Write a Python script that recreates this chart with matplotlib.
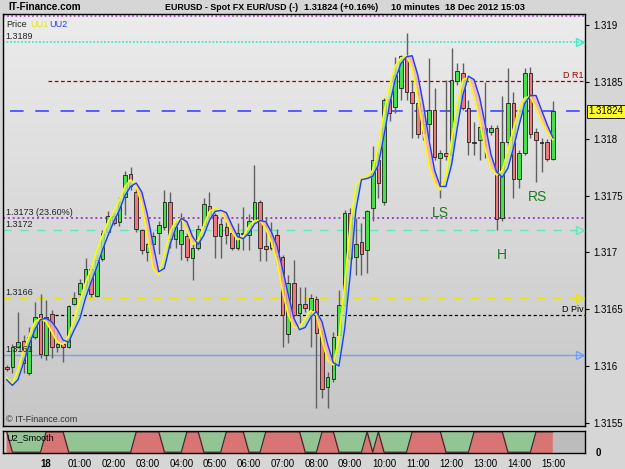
import numpy as np
import matplotlib
matplotlib.use("Agg")
import matplotlib.pyplot as plt
import matplotlib.transforms as mtransforms

# === 10-minute candles, 17 Dec 22:50 -> 18 Dec 15:00 ===
opens = [1.31599, 1.31599, 1.31617, 1.31622, 1.31594, 1.31626, 1.31646, 1.31610, 1.31646, 1.31617,
         1.31619, 1.31617, 1.31655, 1.31663, 1.31671, 1.31685, 1.31662, 1.31694, 1.31718, 1.31732,
         1.31727, 1.31749, 1.31769, 1.31753, 1.31720, 1.31700, 1.31707, 1.31717, 1.31722, 1.31744,
         1.31712, 1.31707, 1.31714, 1.31695, 1.31704, 1.31723, 1.31741, 1.31733, 1.31714, 1.31722,
         1.31717, 1.31704, 1.31716, 1.31715, 1.31728, 1.31744, 1.31706, 1.31704, 1.31715, 1.31696,
         1.31628, 1.31673, 1.31647, 1.31655, 1.31649, 1.31659, 1.31628, 1.31582, 1.31589, 1.31627,
         1.31654, 1.31735, 1.31696, 1.31709, 1.31702, 1.31739, 1.31781, 1.31744, 1.31835, 1.31828,
         1.31845, 1.31873, 1.31841, 1.31831, 1.31805, 1.31813, 1.31825, 1.31783, 1.31787, 1.31786,
         1.31851, 1.31858, 1.31827, 1.31797, 1.31799, 1.31805, 1.31806, 1.31809, 1.31730, 1.31797,
         1.31831, 1.31765, 1.31787, 1.31858, 1.31806, 1.31797, 1.31797, 1.31782]
highs = [1.31601, 1.31619, 1.31648, 1.31627, 1.31634, 1.31656, 1.31663, 1.31658, 1.31649, 1.31632,
         1.31623, 1.31654, 1.31665, 1.31677, 1.31695, 1.31689, 1.31698, 1.31720, 1.31736, 1.31735,
         1.31749, 1.31772, 1.31775, 1.31757, 1.31721, 1.31708, 1.31718, 1.31728, 1.31755, 1.31753,
         1.31727, 1.31735, 1.31717, 1.31707, 1.31724, 1.31748, 1.31753, 1.31735, 1.31730, 1.31728,
         1.31721, 1.31726, 1.31740, 1.31734, 1.31777, 1.31746, 1.31731, 1.31727, 1.31721, 1.31698,
         1.31680, 1.31693, 1.31670, 1.31670, 1.31663, 1.31662, 1.31632, 1.31595, 1.31630, 1.31667,
         1.31737, 1.31739, 1.31730, 1.31726, 1.31737, 1.31794, 1.31788, 1.31836, 1.31838, 1.31872,
         1.31874, 1.31893, 1.31852, 1.31843, 1.31823, 1.31871, 1.31845, 1.31790, 1.31852, 1.31880,
         1.31867, 1.31867, 1.31834, 1.31815, 1.31815, 1.31850, 1.31812, 1.31812, 1.31838, 1.31862,
         1.31841, 1.31790, 1.31862, 1.31863, 1.31809, 1.31801, 1.31800, 1.31833]
lows = [1.31596, 1.31594, 1.31616, 1.31594, 1.31592, 1.31624, 1.31607, 1.31605, 1.31607, 1.31612,
        1.31604, 1.31616, 1.31654, 1.31661, 1.31667, 1.31661, 1.31661, 1.31692, 1.31715, 1.31724,
        1.31723, 1.31733, 1.31755, 1.31718, 1.31699, 1.31692, 1.31699, 1.31699, 1.31720, 1.31704,
        1.31704, 1.31693, 1.31692, 1.31676, 1.31702, 1.31721, 1.31729, 1.31695, 1.31695, 1.31707,
        1.31702, 1.31702, 1.31702, 1.31702, 1.31727, 1.31692, 1.31692, 1.31702, 1.31689, 1.31617,
        1.31620, 1.31643, 1.31638, 1.31648, 1.31617, 1.31563, 1.31572, 1.31563, 1.31586, 1.31626,
        1.31652, 1.31692, 1.31680, 1.31680, 1.31682, 1.31728, 1.31748, 1.31742, 1.31816, 1.31823,
        1.31834, 1.31834, 1.31801, 1.31801, 1.31799, 1.31799, 1.31781, 1.31748, 1.31781, 1.31781,
        1.31847, 1.31825, 1.31786, 1.31786, 1.31781, 1.31783, 1.31803, 1.31720, 1.31728, 1.31794,
        1.31748, 1.31757, 1.31786, 1.31801, 1.31762, 1.31771, 1.31780, 1.31781]
closes = [1.31597, 1.31617, 1.31621, 1.31603, 1.31626, 1.31643, 1.31611, 1.31643, 1.31617, 1.31619,
          1.31617, 1.31653, 1.31660, 1.31673, 1.31685, 1.31663, 1.31693, 1.31717, 1.31732, 1.31726,
          1.31744, 1.31768, 1.31758, 1.31721, 1.31702, 1.31707, 1.31714, 1.31724, 1.31744, 1.31712,
          1.31722, 1.31720, 1.31696, 1.31704, 1.31721, 1.31743, 1.31731, 1.31714, 1.31725, 1.31715,
          1.31704, 1.31717, 1.31717, 1.31728, 1.31744, 1.31704, 1.31703, 1.31714, 1.31697, 1.31645,
          1.31673, 1.31645, 1.31655, 1.31651, 1.31660, 1.31629, 1.31580, 1.31590, 1.31626, 1.31654,
          1.31735, 1.31695, 1.31707, 1.31699, 1.31736, 1.31781, 1.31761, 1.31834, 1.31823, 1.31856,
          1.31873, 1.31841, 1.31831, 1.31804, 1.31813, 1.31825, 1.31784, 1.31787, 1.31785, 1.31852,
          1.31860, 1.31827, 1.31797, 1.31796, 1.31810, 1.31809, 1.31809, 1.31729, 1.31797, 1.31831,
          1.31765, 1.31787, 1.31858, 1.31804, 1.31799, 1.31796, 1.31782, 1.31824]

# === smoothed lines (UU1 yellow, UU2 blue) ===
uu1 = [1.31590, 1.31584, 1.31597, 1.31614, 1.31627, 1.31639, 1.31642, 1.31639, 1.31630, 1.31621,
       1.31619, 1.31627, 1.31642, 1.31658, 1.31673, 1.31686, 1.31702, 1.31715, 1.31727, 1.31736,
       1.31746, 1.31758, 1.31764, 1.31758, 1.31742, 1.31713, 1.31686, 1.31680, 1.31698, 1.31718,
       1.31728, 1.31730, 1.31720, 1.31707, 1.31711, 1.31724, 1.31736, 1.31739, 1.31737, 1.31728,
       1.31718, 1.31711, 1.31714, 1.31723, 1.31728, 1.31728, 1.31721, 1.31709, 1.31692, 1.31665,
       1.31645, 1.31634, 1.31634, 1.31642, 1.31649, 1.31645, 1.31623, 1.31605, 1.31601, 1.31625,
       1.31671, 1.31724, 1.31759, 1.31765, 1.31767, 1.31772, 1.31794, 1.31823, 1.31847, 1.31864,
       1.31871, 1.31873, 1.31862, 1.31836, 1.31805, 1.31777, 1.31761, 1.31755, 1.31768, 1.31799,
       1.31831, 1.31852, 1.31854, 1.31838, 1.31816, 1.31790, 1.31774, 1.31768, 1.31772, 1.31790,
       1.31809, 1.31827, 1.31836, 1.31837, 1.31827, 1.31815, 1.31806, 1.31799]
uu2 = [1.31588, 1.31583, 1.31588, 1.31603, 1.31619, 1.31632, 1.31641, 1.31642, 1.31639, 1.31632,
       1.31623, 1.31621, 1.31632, 1.31642, 1.31660, 1.31674, 1.31687, 1.31702, 1.31715, 1.31727,
       1.31737, 1.31750, 1.31758, 1.31761, 1.31753, 1.31733, 1.31707, 1.31683, 1.31686, 1.31707,
       1.31721, 1.31730, 1.31727, 1.31714, 1.31707, 1.31715, 1.31728, 1.31736, 1.31737, 1.31735,
       1.31724, 1.31714, 1.31712, 1.31717, 1.31725, 1.31728, 1.31727, 1.31718, 1.31706, 1.31685,
       1.31663, 1.31642, 1.31632, 1.31634, 1.31643, 1.31648, 1.31639, 1.31619, 1.31603, 1.31600,
       1.31632, 1.31680, 1.31737, 1.31764, 1.31765, 1.31767, 1.31777, 1.31803, 1.31830, 1.31852,
       1.31866, 1.31872, 1.31873, 1.31856, 1.31830, 1.31799, 1.31772, 1.31758, 1.31758, 1.31777,
       1.31809, 1.31838, 1.31855, 1.31852, 1.31836, 1.31812, 1.31786, 1.31771, 1.31766, 1.31774,
       1.31792, 1.31812, 1.31831, 1.31838, 1.31838, 1.31825, 1.31812, 1.31801]

# === U2_Smooth state (1 = red / up top, 0 = green) ===
u2_smooth = [1, 0, 0, 0, 0, 0, 0, 1, 1, 1, 1, 0, 0, 0, 0, 0, 0, 0, 0, 0,
             0, 0, 0, 1, 1, 1, 1, 1, 0, 0, 0, 0, 1, 1, 1, 0, 0, 0, 0, 1,
             1, 1, 1, 0, 0, 0, 1, 1, 1, 1, 1, 1, 1, 0, 0, 0, 1, 1, 1, 0,
             0, 0, 0, 0, 1, 0, 1, 0, 0, 0, 0, 0, 1, 1, 1, 1, 1, 1, 0, 0,
             0, 0, 0, 1, 1, 1, 1, 1, 1, 0, 0, 0, 0, 0, 1, 1, 1, 1]

# === horizontal levels ===
lvl_top = 1.31908
lvl_1189 = 1.31885
lvl_dr1 = 1.31851
last_price = 1.31824
lvl_fib = 1.3173
lvl_1172 = 1.3172
lvl_1166 = 1.3166
lvl_dpiv = 1.31645
lvl_1161 = 1.3161

hour_labels = ["18", "01:00", "02:00", "03:00", "04:00", "05:00", "06:00", "07:00",
               "08:00", "09:00", "10:00", "11:00", "12:00", "13:00", "14:00", "15:00"]
price_ticks = [1.3155, 1.316, 1.3165, 1.317, 1.3175, 1.318, 1.3185, 1.319]
price_tick_labels = ["1.3155", "1.316", "1.3165", "1.317", "1.3175", "1.318", "1.3185", "1.319"]

n = len(closes)
x = np.arange(n)
xmin, xmax = -0.66, 102.7

plt.rcParams["font.family"] = ["Liberation Sans", "DejaVu Sans"]
fig = plt.figure(figsize=(6.25, 4.69), dpi=100, facecolor="#d6d6d6")

W, H = 625.0, 469.0
ax = fig.add_axes([3 / W, 1 - 426 / H, 582 / W, 412 / H])
ax2 = fig.add_axes([3 / W, 1 - 453 / H, 582 / W, 22 / H])

# background gradient
grad = np.linspace(0, 1, 256).reshape(-1, 1)
ax.imshow(grad, extent=[0, 1, 0, 1], transform=ax.transAxes, aspect="auto",
          cmap=matplotlib.colors.LinearSegmentedColormap.from_list("bg", ["#c6c6c6", "#ececec"]),
          origin="lower", zorder=0)

ax.set_xlim(xmin, xmax)
ax.set_ylim(1.315473, 1.319097)

# levels
ax.axhline(lvl_top, color="#a040c8", lw=1.2, ls=(0, (1, 1.5)), zorder=1)
ax.axhline(lvl_1189, color="#40e8c8", lw=1.3, ls=(0, (1, 1)), zorder=1)
ax.hlines(lvl_dr1, 7.3, xmax, color="#a00000", lw=0.9, ls=(0, (3, 2)), zorder=1)
ax.hlines(last_price, 0.6, xmax, color="#5a5aff", lw=1.4, ls=(0, (7, 6)), zorder=1)
ax.axhline(lvl_fib, color="#a040d0", lw=1.4, ls=(0, (1, 1.5)), zorder=1)
ax.axhline(lvl_1172, color="#60e8b8", lw=1.0, ls=(0, (6, 6)), zorder=1)
ax.axhline(lvl_1166, color="#e6e600", lw=1.0, ls=(0, (6, 6)), zorder=1)
ax.hlines(lvl_dpiv, 8.6, xmax, color="black", lw=0.9, ls=(0, (2.5, 2)), zorder=1)
ax.axhline(lvl_1161, color="#70a0ff", lw=1.0, zorder=1)

tri_x = 101.8
for lv, col in [(lvl_1189, "#40e8c8"), (lvl_1172, "#60e8b8"), (lvl_1166, "#e6e600"), (lvl_1161, "#70a0ff")]:
    ax.plot([tri_x], [lv], marker=">", ms=6, mfc="none", mec=col, mew=1.0, zorder=5)

lab_kw = dict(fontsize=6.5, color="#222222", ha="left", va="bottom", zorder=6)
ax.text(-0.2, lvl_1189 + 0.00001, "1.3189", **lab_kw)
ax.text(-0.2, lvl_fib + 0.00001, "1.3173 (23.60%)", **lab_kw)
ax.text(-0.2, lvl_1172 + 0.00001, "1.3172", **lab_kw)
ax.text(-0.2, lvl_1166 + 0.00001, "1.3166", **lab_kw)
ax.text(-0.2, lvl_1161 + 0.00001, "1.3161", **lab_kw)
ax.text(102.5, lvl_dr1 + 0.00001, "D R1", fontsize=6.5, color="#a00000", ha="right", va="bottom")
ax.text(102.5, lvl_dpiv + 0.00001, "D Piv", fontsize=6.5, color="black", ha="right", va="bottom")

# candles
o = np.array(opens); h = np.array(highs); l = np.array(lows); c = np.array(closes)
up = c >= o
ax.vlines(x, l, h, color="#606060", lw=1.0, zorder=2)
body_lo = np.minimum(o, c)
body_h = np.maximum(np.abs(c - o), 0.000012)
ax.bar(x[up], body_h[up], bottom=body_lo[up], width=0.64, color="#48e048",
       edgecolor="#202020", lw=0.6, zorder=3)
ax.bar(x[~up], body_h[~up], bottom=body_lo[~up], width=0.64, color="#f07878",
       edgecolor="#202020", lw=0.6, zorder=3)

# smoothed lines with fill
y1 = np.array(uu1); y2 = np.array(uu2)
ax.fill_between(x, y1, y2, where=y1 >= y2, color="#b8e4a8", alpha=0.8, interpolate=True, zorder=3.5)
ax.fill_between(x, y1, y2, where=y1 < y2, color="#f4b0b0", alpha=0.8, interpolate=True, zorder=3.5)
ax.plot(x, y1, color="#ffff00", lw=1.1, zorder=4)
ax.plot(x, y2, color="#1e3cff", lw=1.0, zorder=4)

# pattern labels
ax.text(77, 1.31735, "LS", fontsize=10, color="#1e7a1e", ha="center", va="center", zorder=6)
ax.text(88, 1.31698, "H", fontsize=10, color="#1e7a1e", ha="center", va="center", zorder=6)
ax.text(94.2, 1.31749, "RS", fontsize=10, color="#1e7a1e", ha="center", va="center", zorder=6)

# axis styling
ax.set_xticks([])
ax.yaxis.tick_right()
ax.set_yticks(price_ticks)
ax.set_yticklabels(price_tick_labels, fontsize=7)
ax.tick_params(axis="y", length=3, width=0.8, pad=3)
for s in ax.spines.values():
    s.set_color("black")
    s.set_linewidth(1.0)

trans = mtransforms.blended_transform_factory(ax.transAxes, ax.transData)
ax.text(1.006, last_price, "1.31824", transform=trans, fontsize=7, ha="left", va="center",
        bbox=dict(boxstyle="square,pad=0.15", fc="#ffff30", ec="black", lw=0.6), zorder=7,
        clip_on=False)

# legend-like header inside chart
ax.text(0.005, 0.975, "Price", transform=ax.transAxes, fontsize=6.5, color="#222222", va="center")
ax.text(0.046, 0.975, "UU1", transform=ax.transAxes, fontsize=6.5, color="#e8e800", va="center")
ax.text(0.079, 0.975, "UU2", transform=ax.transAxes, fontsize=6.5, color="#2040ff", va="center")
ax.text(0.005, 0.005, "\u00a9 IT-Finance.com", transform=ax.transAxes, fontsize=6.5,
        color="#333333", va="bottom")

# === U2_Smooth panel ===
u = np.array(u2_smooth, dtype=float)
ax2.set_facecolor("#d6d6d6")
ax2.set_xlim(xmin, xmax)
ax2.set_ylim(-0.04, 1.04)
ax2.fill_between(x, u, 1.04, color="#93c493", zorder=1)
ax2.fill_between(x, -0.04, u, color="#d97474", zorder=1)
ax2.axvspan(x[-1], xmax, color="#bcbcbc", zorder=1)
ax2.plot(x, u, color="#2a2a2a", lw=0.8, zorder=2)
ax2.text(0.005, 0.88, "U2_Smooth", transform=ax2.transAxes, fontsize=6.5, va="top", zorder=3)
ax2.yaxis.tick_right()
ax2.set_yticks([0])
ax2.set_yticklabels(["0"], fontsize=7, fontweight="bold")
ax2.tick_params(axis="y", length=0, pad=8)
ax2.set_xticks([7 + 6 * k for k in range(len(hour_labels))])
ax2.set_xticklabels(hour_labels, fontsize=7)
ax2.get_xticklabels()[0].set_fontweight("bold")
ax2.tick_params(axis="x", length=0, pad=4)
for s in ax2.spines.values():
    s.set_color("black")
    s.set_linewidth(1.0)

# title bar
ty = 1 - 7 / H
fig.text(8 / W, ty, "IT-Finance.com", fontsize=7.2, fontweight="bold", va="center")
fig.text(165 / W, ty, "EURUSD - Spot FX EUR/USD (-)", fontsize=6.4, fontweight="bold", va="center")
fig.text(304 / W, ty, "1.31824 (+0.16%)", fontsize=6.7, fontweight="bold", va="center")
fig.text(391 / W, ty, "10 minutes  18 Dec 2012 15:03", fontsize=6.7, fontweight="bold", va="center")

fig.savefig("out.png", dpi=100, facecolor=fig.get_facecolor())
